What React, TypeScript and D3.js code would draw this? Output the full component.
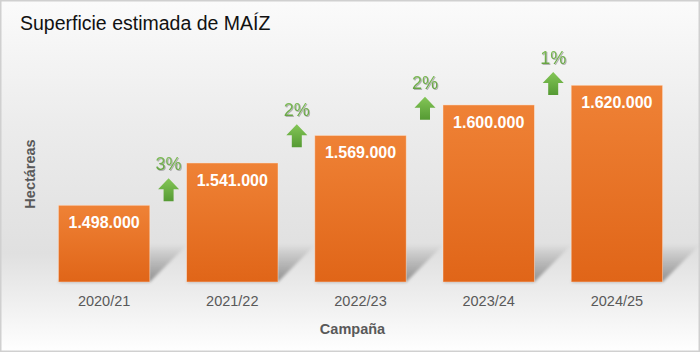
import React from "react";
import * as d3 from "d3";

const categories = ["2020/21", "2021/22", "2022/23", "2023/24", "2024/25"];
const hectares = [1498000, 1541000, 1569000, 1600000, 1620000];
const valueLabels = ["1.498.000", "1.541.000", "1.569.000", "1.600.000", "1.620.000"];
const changeLabels = ["3%", "2%", "2%", "1%"];
// level (in hectares) at which each change arrow stands
const arrowLevels = [1502000, 1557000, 1585000, 1610000];

const W = 700;
const H = 352;
const FONT = "'Liberation Sans', Arial, Helvetica, sans-serif";

export default function App() {
  const x = d3
    .scaleBand<string>()
    .domain(categories)
    .range([40, 681])
    .paddingInner(0.287)
    .paddingOuter(0.1435);
  const y = d3.scaleLinear().domain([1420000, 1640000]).range([282, 65.6]);
  const bw = x.bandwidth();
  const base = y(1420000);

  const arrowPath = (cx: number, by: number) => {
    const hw = 10.5, sw = 5, hh = 11, th = 23;
    const p = d3.path();
    p.moveTo(cx - sw, by);
    p.lineTo(cx - sw, by - th + hh);
    p.lineTo(cx - hw, by - th + hh);
    p.lineTo(cx, by - th);
    p.lineTo(cx + hw, by - th + hh);
    p.lineTo(cx + sw, by - th + hh);
    p.lineTo(cx + sw, by);
    p.closePath();
    return p.toString();
  };

  return (
    <div style={{ position: "absolute", left: 0, top: 0, width: W, height: H }}>
      <svg width={W} height={H} style={{ display: "block" }}>
        <defs>
          <linearGradient id="bg" x1="0" y1="0" x2="0" y2="1">
            <stop offset="0" stopColor="#fbfbfb" />
            <stop offset="0.35" stopColor="#ececec" />
            <stop offset="0.72" stopColor="#e0e0e0" />
            <stop offset="1" stopColor="#ffffff" />
          </linearGradient>
          <linearGradient id="bar" x1="0" y1="0" x2="0" y2="1">
            <stop offset="0" stopColor="#ef8236" />
            <stop offset="1" stopColor="#e06518" />
          </linearGradient>
          <linearGradient id="arrow" x1="0" y1="0" x2="0" y2="1">
            <stop offset="0" stopColor="#84c657" />
            <stop offset="1" stopColor="#559a33" />
          </linearGradient>
          <linearGradient id="pct" x1="0" y1="0" x2="0" y2="1">
            <stop offset="0" stopColor="#82c05a" />
            <stop offset="1" stopColor="#5f9e3c" />
          </linearGradient>
          <linearGradient id="shadow" x1="0" y1="1" x2="0" y2="0">
            <stop offset="0" stopColor="#000" stopOpacity="0.38" />
            <stop offset="1" stopColor="#000" stopOpacity="0" />
          </linearGradient>
          <filter id="blur" x="-20%" y="-20%" width="140%" height="140%">
            <feGaussianBlur stdDeviation="1.5" />
          </filter>
          <filter id="tshadow" x="-20%" y="-20%" width="150%" height="150%">
            <feDropShadow dx="1" dy="1" stdDeviation="0.7" floodColor="#888" floodOpacity="0.6" />
          </filter>
        </defs>

        <rect x={0} y={0} width={W} height={H} fill="url(#bg)" />
        <rect x={0.75} y={0.75} width={W - 1.5} height={H - 1.5} fill="none" stroke="#d0d0d0" strokeWidth={1.5} />

        <text x={20} y={30} fontFamily={FONT} fontSize={19.5} fill="#111">
          Superficie estimada de MAÍZ
        </text>

        {/* shadows */}
        {categories.map((c) => {
          const x0 = x(c)!;
          const d = 38;
          return (
            <polygon
              key={"s" + c}
              points={`${x0},${base} ${x0 + bw},${base} ${x0 + bw + d},${base - d} ${x0 + d},${base - d}`}
              fill="url(#shadow)"
              filter="url(#blur)"
            />
          );
        })}

        {/* bars */}
        {categories.map((c, i) => (
          <g key={"b" + c}>
            <rect
              x={x(c)!}
              y={y(hectares[i])}
              width={bw}
              height={base - y(hectares[i])}
              fill="url(#bar)"
              stroke="rgba(255,235,220,0.55)"
              strokeWidth={0.8}
            />
            <text
              x={x(c)! + bw / 2}
              y={y(hectares[i]) + 23}
              textAnchor="middle"
              fontFamily={FONT}
              fontWeight="bold"
              fontSize={16}
              fill="#fff"
            >
              {valueLabels[i]}
            </text>
            <text
              x={x(c)! + bw / 2}
              y={305.5}
              textAnchor="middle"
              fontFamily={FONT}
              fontSize={14.5}
              fill="#595959"
            >
              {c}
            </text>
          </g>
        ))}

        {/* change arrows */}
        {changeLabels.map((lab, i) => {
          const cx = x(categories[i + 1])! - 18;
          const by = y(arrowLevels[i]);
          return (
            <g key={"a" + i}>
              <path d={arrowPath(cx, by)} fill="url(#arrow)" />
              <text
                x={cx}
                y={by - 23 - 8}
                textAnchor="middle"
                fontFamily={FONT}
                fontSize={18}
                fill="url(#pct)"
                filter="url(#tshadow)"
              >
                {lab}
              </text>
            </g>
          );
        })}

        <text
          x={(40 + 681) / 2 - 8}
          y={334}
          textAnchor="middle"
          fontFamily={FONT}
          fontWeight="bold"
          fontSize={14.5}
          fill="#595959"
        >
          Campaña
        </text>
        <text
          transform={`translate(35, 174) rotate(-90)`}
          textAnchor="middle"
          fontFamily={FONT}
          fontWeight="bold"
          fontSize={14.5}
          fill="#595959"
        >
          Hectáreas
        </text>
      </svg>
    </div>
  );
}
